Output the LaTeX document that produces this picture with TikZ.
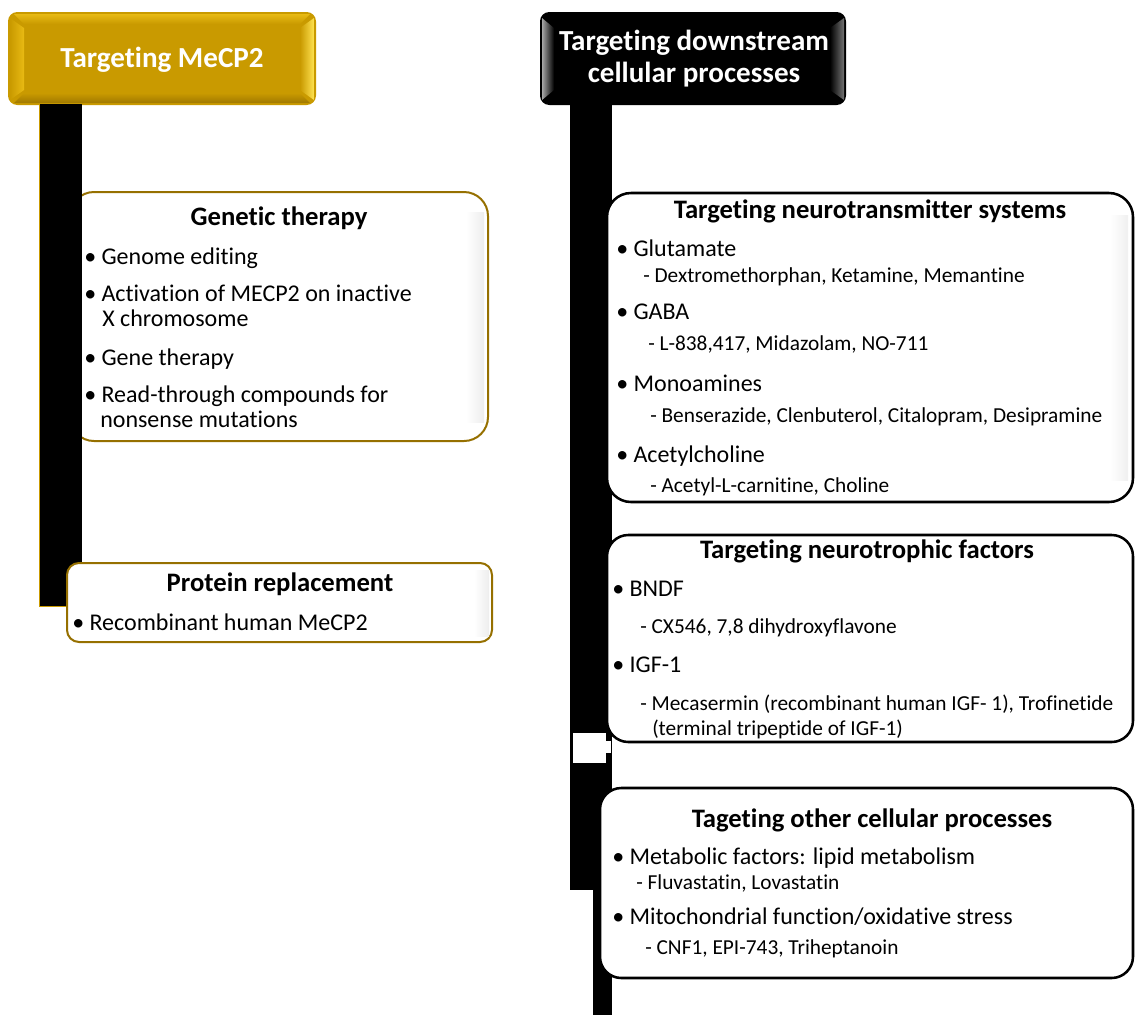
\documentclass[tikz,border=0pt]{standalone}
\usepackage{fontspec}
\setmainfont{Carlito}[Ligatures=NoCommon]
\definecolor{gold}{RGB}{201,154,0}
\definecolor{goldlight}{RGB}{232,186,20}
\definecolor{goldbright}{RGB}{255,226,80}
\definecolor{golddark}{RGB}{150,112,0}
\definecolor{boxgold}{RGB}{150,112,0}
\newcommand\mybul{\makebox[13pt][l]{•}}
\tikzset{
  hdr/.style={font=\fontsize{21.8}{23.5}\selectfont\bfseries, text=white, anchor=base, inner sep=0pt},
  ttl/.style={font=\fontsize{20}{22}\selectfont\bfseries, anchor=base, inner sep=0pt},
  itm/.style={font=\fontsize{18}{20}\selectfont, anchor=base west, inner sep=0pt},
  sub/.style={font=\fontsize{16}{18}\selectfont, anchor=base west, inner sep=0pt},
  goldbox/.style={fill=white, draw=boxgold, line width=1.5pt, rounded corners=18pt},
  blackbox/.style={fill=white, draw=black, line width=1.9pt, rounded corners=16pt},
  barblack/.style={fill=black},
}
\begin{document}
\begin{tikzpicture}[x=0.75pt,y=-0.75pt]
\useasboundingbox (0,0) rectangle (1136,1015);
\fill[white] (0,0) rectangle (1136,1015);

% ---------- gold header ----------
\fill[gold, rounded corners=7pt] (8,12) rectangle (316,105);
\shade[top color=goldlight, bottom color=gold] (14,14) -- (310,14) -- (300,24) -- (24,24) -- cycle;
\shade[top color=gold, bottom color=golddark!80!gold] (24,93) -- (300,93) -- (310,103) -- (14,103) -- cycle;
\shade[left color=gold, right color=goldlight] (10,18) -- (24,28) -- (24,90) -- (10,100) -- cycle;
\shade[left color=gold, right color=goldbright] (300,28) -- (314,18) -- (314,100) -- (300,90) -- cycle;
\node[hdr] (h1) at (162,67) {Targeting MeCP2};

% ---------- left side ----------
\draw[goldbox] (70,192) rectangle (488,441);
\shade[left color=white, right color=black!7] (466,212) rectangle (484,422);
\fill[black] (39,104) rectangle (82,607);
\draw[gold, line width=1.2pt] (39.5,104) -- (39.5,606.5) -- (70,606.5);
\draw[goldbox, rounded corners=9pt] (67,563) rectangle (492,642);
\shade[left color=white, right color=black!7] (474,570) rectangle (489,636);

% ---------- black header ----------
\fill[black, rounded corners=7pt] (540,12) rectangle (846,105);
\shade[left color=black, right color=black!55] (830,28) -- (844,18) -- (844,100) -- (830,90) -- cycle;
\shade[left color=black!35, right color=black] (542,18) -- (554,28) -- (554,90) -- (542,100) -- cycle;
\node[hdr] (h2a) at (694,50) {Targeting downstream};
\node[hdr] (h2b) at (694,82) {cellular processes};

% ---------- right bars ----------
\fill[barblack] (570,104) rectangle (612,890);
\fill[barblack] (593,889) rectangle (612,1015);

% ---------- right boxes ----------
\draw[blackbox, rounded corners=18pt] (607,193) rectangle (1133,502);
\shade[left color=white, right color=black!6] (1110,215) rectangle (1128,480);
\draw[blackbox] (607,535) rectangle (1133,742);
\draw[blackbox] (600,788) rectangle (1133,978);

% notch
\fill[white] (573,733) rectangle (606,763);
\fill[white] (605,741) rectangle (611,753);

% ---------- texts: genetic therapy ----------
\node[ttl] (g0) at (279,225) {Genetic therapy};
\node[itm] (g1) at (84,264) {\mybul Genome editing};
\node[itm] (g2) at (84,301) {\mybul Activation of MECP2 on inactive};
\node[itm] (g3) at (102,326) {X chromosome};
\node[itm] (g4) at (84,365) {\mybul Gene therapy};
\node[itm] (g5) at (84,402) {\mybul Read-through compounds for};
\node[itm] (g6) at (100,427) {nonsense mutations};

% protein replacement
\node[ttl] (p0) at (280,591) {Protein replacement};
\node[itm] (p1) at (72,630) {\mybul Recombinant human MeCP2};

% neurotransmitter
\node[ttl] (n0) at (870,218) {Targeting neurotransmitter systems};
\node[itm] (n1) at (616,256) {\mybul Glutamate};
\node[sub] (n2) at (643,282) {- Dextromethorphan, Ketamine, Memantine};
\node[itm] (n3) at (616,319) {\mybul GABA};
\node[sub] (n4) at (648,350) {- L-838,417, Midazolam, NO-711};
\node[itm] (n5) at (616,391) {\mybul Monoamines};
\node[sub] (n6) at (650,422) {- Benserazide, Clenbuterol, Citalopram, Desipramine};
\node[itm] (n7) at (616,462) {\mybul Acetylcholine};
\node[sub] (n8) at (650,492) {- Acetyl-L-carnitine, Choline};

% neurotrophic
\node[ttl] (f0) at (867,558) {Targeting neurotrophic factors};
\node[itm] (f1) at (612,596) {\mybul BNDF};
\node[sub] (f2) at (640,633) {- CX546, 7,8 dihydroxyflavone};
\node[itm] (f3) at (612,672) {\mybul IGF-1};
\node[sub] (f4) at (640,710) {- Mecasermin (recombinant human IGF- 1), Trofinetide};
\node[sub] (f5) at (652,735) {(terminal tripeptide of IGF-1)};

% other processes
\node[ttl] (o0) at (872,827) {Tageting other cellular processes};
\node[itm] (o1) at (612,864) {\mybul Metabolic factors: lipid metabolism};
\node[sub] (o2) at (636,889) {- Fluvastatin, Lovastatin};
\node[itm] (o3) at (612,924) {\mybul Mitochondrial function/oxidative stress};
\node[sub] (o4) at (645,954) {- CNF1, EPI-743, Triheptanoin};
\end{tikzpicture}
\end{document}
